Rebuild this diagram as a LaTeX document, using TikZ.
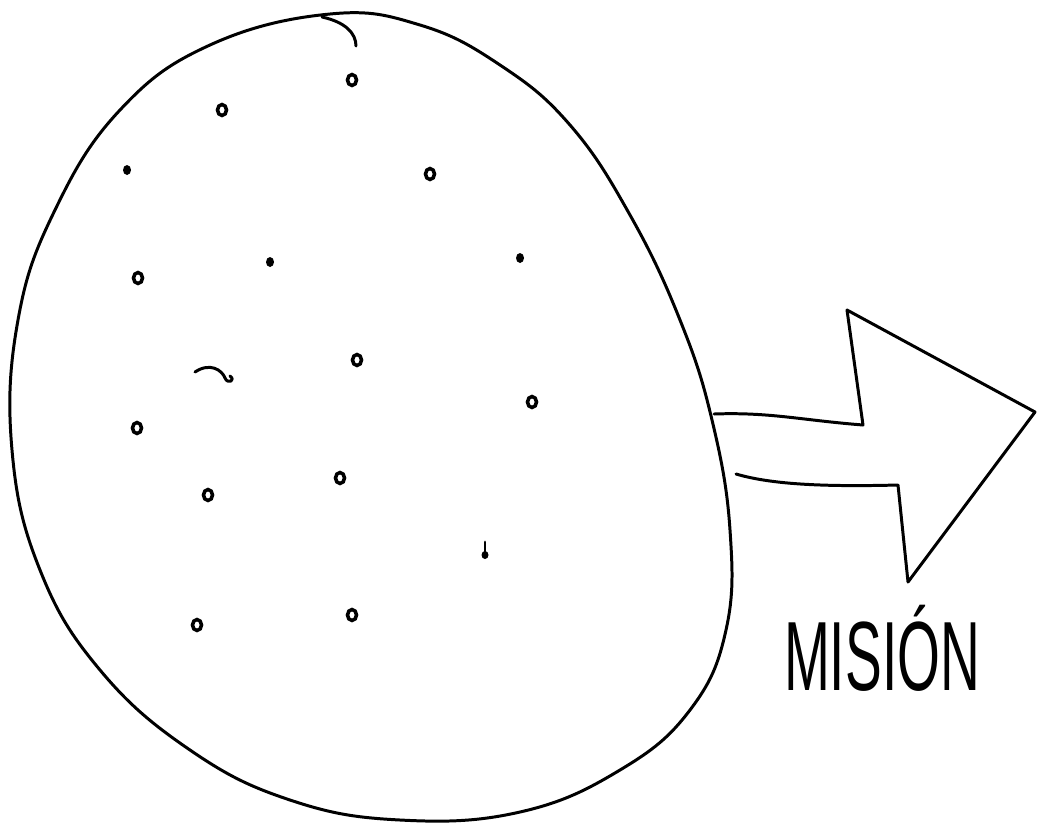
\documentclass[tikz,border=0pt]{standalone}
\usepackage{fontspec}
\setmainfont{Liberation Sans}
\usetikzlibrary{calc}

\begin{document}
\begin{tikzpicture}[
    x=0.02cm, y=-0.02cm,
    sketch/.style={line width=1.7pt, line cap=round, line join=round},
    speck/.style={line width=2pt, draw, fill=white},
    caption/.style={font=\fontsize{56}{56}\selectfont, xscale=0.56, inner sep=0pt}
]
\useasboundingbox (0,0) rectangle (1038,826);

% Blob
\draw[sketch] plot[smooth cycle, tension=0.7] coordinates {
    (330,14) (420,25) (500,65) (570,125) (630,215) (680,320)
    (712,420) (730,530) (726,630) (690,710) (620,770) (520,812)
    (400,820) (290,800) (190,750) (100,670) (40,570) (12,450)
    (18,320) (55,210) (120,110) (210,45)};
\coordinate (nib) at (322,17);
\draw[sketch] (nib) .. controls (345,22) and (356,33) .. (356,46);

% Specks
\foreach \px/\py in {352/80, 222/110, 430/174, 138/278,
    357/360, 532/402, 137/428, 340/478, 208/495, 197/625, 352/615}
    \draw[speck] (\px,\py) ellipse (4.5 and 5.5);
\foreach \px/\py in {127/170, 270/262, 520/258}
    \fill (\px,\py) ellipse (4 and 5);
\draw[sketch] (195,372) .. controls (210,362) and (222,370) .. (225,378)
    .. controls (228,385) and (236,380) .. (230,376);
\fill (485,555) ellipse (3.5 and 4);
\draw[sketch] (485,542) -- (485,552);

% Arrow
\coordinate (shaftA) at (714,414);
\coordinate (shaftB) at (736,474);
\draw[sketch] (shaftA) .. controls (770,412) and (800,420) .. (863,425)
    -- (847,310) -- (1035,412) -- (908,582) -- (898,485)
    .. controls (820,487) and (770,484) .. (shaftB);

% Caption
\node[caption] (mision) at (882,648) {MISIÓN};
\end{tikzpicture}
\end{document}
